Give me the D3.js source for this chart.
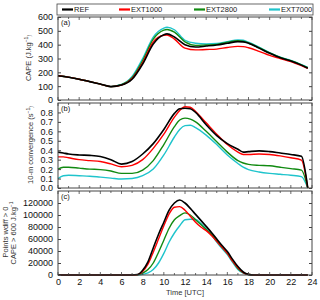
<!DOCTYPE html>
<html>
<head>
<meta charset="utf-8">
<script src="https://cdn.jsdelivr.net/npm/d3@7"></script>
<style>
  body { margin: 0; background: #fff; }
  svg { display: block; font-family: "Liberation Sans", Arial, sans-serif; }
</style>
</head>
<body>
<div id="chart"></div>
<script>
// series names / colours
var names = ["REF", "EXT1000", "EXT2800", "EXT7000"];
var colors = ["#000000", "#ff0000", "#118a11", "#1fc4cc"];

// panel (a) CAPE
var timeA = [0, 1, 2, 3, 4, 5, 6, 7, 8, 9, 10, 10.3, 11, 12, 13, 14, 15, 16, 17, 17.5, 18, 19, 20, 21, 22, 23, 23.6];
var capeRef  = [175, 165, 150, 133, 115, 97, 108, 150, 260, 405, 472, 478, 455, 400, 383, 390, 398, 410, 422, 420, 410, 375, 338, 305, 282, 252, 230];
var cape1000 = [175, 165, 150, 133, 115, 97, 108, 155, 270, 420, 468, 470, 440, 375, 362, 365, 368, 380, 388, 386, 378, 352, 322, 300, 278, 248, 228];
var cape2800 = [175, 165, 150, 133, 115, 97, 110, 162, 285, 440, 505, 510, 490, 420, 395, 398, 402, 418, 428, 425, 412, 378, 340, 308, 284, 254, 234];
var cape7000 = [175, 165, 150, 133, 115, 97, 112, 170, 300, 455, 520, 526, 508, 432, 410, 405, 408, 422, 434, 432, 418, 382, 343, 310, 286, 256, 236];

// panel (b) 10-m convergence
var timeB = [0, 0.5, 1, 2, 3, 4, 5, 6, 7, 8, 9, 10, 11, 11.5, 12, 12.5, 13, 14, 15, 16, 17, 17.5, 18, 19, 20, 21, 22, 23, 23.6];
var convRef  = [0.38, 0.37, 0.36, 0.35, 0.345, 0.333, 0.30, 0.253, 0.28, 0.36, 0.47, 0.62, 0.79, 0.84, 0.845, 0.84, 0.80, 0.67, 0.555, 0.47, 0.41, 0.38, 0.385, 0.393, 0.385, 0.37, 0.355, 0.335, 0.0];
var conv1000 = [0.33, 0.33, 0.32, 0.30, 0.29, 0.28, 0.255, 0.225, 0.24, 0.30, 0.42, 0.57, 0.75, 0.82, 0.86, 0.855, 0.81, 0.69, 0.57, 0.46, 0.38, 0.355, 0.355, 0.36, 0.355, 0.34, 0.32, 0.295, 0.0];
var conv2800 = [0.20, 0.22, 0.22, 0.21, 0.20, 0.195, 0.18, 0.155, 0.155, 0.19, 0.29, 0.46, 0.65, 0.72, 0.74, 0.73, 0.70, 0.60, 0.49, 0.38, 0.29, 0.265, 0.25, 0.24, 0.235, 0.22, 0.205, 0.19, 0.0];
var conv7000 = [0.10, 0.13, 0.135, 0.13, 0.125, 0.115, 0.105, 0.095, 0.10, 0.13, 0.20, 0.35, 0.54, 0.62, 0.66, 0.665, 0.64, 0.56, 0.46, 0.35, 0.26, 0.22, 0.195, 0.17, 0.155, 0.145, 0.135, 0.12, 0.0];

// panel (c) points with wdiff > 0 and CAPE > 600
var timeC = [0, 7, 7.5, 8, 8.5, 9, 9.5, 10, 10.5, 11, 11.5, 12, 12.5, 13, 13.5, 14, 14.5, 15, 15.5, 16, 16.5, 17, 17.5, 18, 18.5, 23.6];
var ptsRef  = [0, 0, 800, 8000, 22000, 45000, 68000, 88000, 108000, 120000, 125000, 120000, 111000, 101000, 91000, 81000, 71000, 60000, 49000, 39000, 26000, 14000, 5000, 1000, 0, 0];
var pts1000 = [0, 0, 500, 6000, 18000, 38000, 60000, 82000, 102000, 113000, 114000, 108000, 98000, 88000, 80000, 74000, 66000, 56000, 46000, 36000, 23000, 12000, 4000, 800, 0, 0];
var pts2800 = [0, 0, 200, 3000, 9000, 20000, 38000, 58000, 78000, 92000, 99000, 103500, 100000, 92000, 84000, 76000, 68000, 57000, 46000, 36000, 23000, 11000, 4000, 800, 0, 0];
var pts7000 = [0, 0, 0, 1000, 3500, 9000, 20000, 36000, 55000, 70000, 82000, 92000, 93000, 92500, 86000, 77000, 67000, 55000, 44000, 34000, 21000, 9000, 3000, 400, 0, 0];

var xTicks = [0, 2, 4, 6, 8, 10, 12, 14, 16, 18, 20, 22, 24];
var ticksA = [0, 100, 200, 300, 400, 500, 600];
var ticksB = [0, 0.1, 0.2, 0.3, 0.4, 0.5, 0.6, 0.7, 0.8];
var ticksC = [0, 20000, 40000, 60000, 80000, 100000, 120000];

var width = 320, height = 300;
var left = 58, right = 312;

var svg = d3.select("#chart").append("svg")
  .attr("width", width)
  .attr("height", height);

var x = d3.scaleLinear().domain([0, 24]).range([left, right]);

var panels = [
  { label: "(a)", top: 17, bottom: 100, domain: [0, 600], ticks: ticksA, fmt: d3.format("d"),
    time: timeA, series: [capeRef, cape1000, cape2800, cape7000] },
  { label: "(b)", top: 103, bottom: 188, domain: [0, 0.9], ticks: ticksB, fmt: d3.format(".1f"),
    time: timeB, series: [convRef, conv1000, conv2800, conv7000] },
  { label: "(c)", top: 191, bottom: 275, domain: [0, 140000], ticks: ticksC, fmt: d3.format("d"),
    time: timeC, series: [ptsRef, pts1000, pts2800, pts7000] }
];

panels.forEach(function (p, pi) {
  var y = d3.scaleLinear().domain(p.domain).range([p.bottom, p.top]);
  var g = svg.append("g");

  var line = d3.line()
    .x(function (d, i) { return x(p.time[i]); })
    .y(function (d) { return y(d); })
    .curve(d3.curveMonotoneX);

  // draw from last to first so REF is on top
  for (var s = p.series.length - 1; s >= 0; s--) {
    g.append("path")
      .datum(p.series[s])
      .attr("d", line)
      .attr("fill", "none")
      .attr("stroke", colors[s])
      .attr("stroke-width", s == 0 ? 1.6 : 1.4);
  }

  // frame
  g.append("rect")
    .attr("x", left).attr("y", p.top)
    .attr("width", right - left).attr("height", p.bottom - p.top)
    .attr("fill", "none").attr("stroke", "#444").attr("stroke-width", 1);

  // x ticks, inside, top and bottom
  var hours = d3.range(0, 25);
  g.selectAll(".xtb").data(hours).enter().append("line")
    .attr("x1", function (d) { return x(d); }).attr("x2", function (d) { return x(d); })
    .attr("y1", p.bottom).attr("y2", function (d) { return p.bottom - (d % 2 == 0 ? 3 : 2); })
    .attr("stroke", "#444").attr("stroke-width", 0.8);
  g.selectAll(".xtt").data(hours).enter().append("line")
    .attr("x1", function (d) { return x(d); }).attr("x2", function (d) { return x(d); })
    .attr("y1", p.top).attr("y2", function (d) { return p.top + (d % 2 == 0 ? 3 : 2); })
    .attr("stroke", "#444").attr("stroke-width", 0.8);

  // y axis left with labels, ticks inside
  var yAxis = d3.axisLeft(y).tickValues(p.ticks).tickFormat(p.fmt).tickSizeInner(-3).tickSizeOuter(0).tickPadding(5);
  var ya = g.append("g").attr("transform", "translate(" + left + ",0)").call(yAxis);
  ya.select(".domain").remove();
  ya.selectAll("line").attr("stroke", "#444");
  ya.selectAll("text").attr("font-size", "9px").attr("fill", "#111");

  var yAxisR = d3.axisRight(y).tickValues(p.ticks).tickSizeInner(-3).tickSizeOuter(0).tickFormat("");
  var yr = g.append("g").attr("transform", "translate(" + right + ",0)").call(yAxisR);
  yr.select(".domain").remove();
  yr.selectAll("line").attr("stroke", "#444");

  g.append("text")
    .attr("x", left + 3).attr("y", p.top + 8)
    .attr("font-size", "7.5px").attr("fill", "#111")
    .text(p.label);

  if (pi == 2) {
    var xAxis = d3.axisBottom(x).tickValues(xTicks).tickSize(0).tickPadding(4);
    var xa = g.append("g").attr("transform", "translate(0," + p.bottom + ")").call(xAxis);
    xa.select(".domain").remove();
    xa.selectAll("text").attr("font-size", "9px").attr("fill", "#111");
  }
});

// y-axis titles
function yTitle(cx, cy, parts) {
  var t = svg.append("text")
    .attr("transform", "translate(" + cx + "," + cy + ") rotate(-90)")
    .attr("text-anchor", "middle")
    .attr("font-size", "7.5px").attr("fill", "#333");
  parts.forEach(function (pt) {
    var ts = t.append("tspan").text(pt[0]);
    if (pt[1]) ts.attr("dy", pt[1]).attr("font-size", "5px");
  });
}
yTitle(31, 58, [["CAPE (J.kg"], ["\u22121", "-2.8"], [")", "2.8"]]);
yTitle(33, 145, [["10-m convergence (s"], ["\u22121", "-2.8"], [")", "2.8"]]);
yTitle(8, 232, [["Points wdiff  > 0"]]);
yTitle(16, 233, [["CAPE > 600 J.kg"], ["\u22121", "-2.8"]]);

svg.append("text")
  .attr("x", 185).attr("y", 295)
  .attr("text-anchor", "middle")
  .attr("font-size", "7.5px").attr("fill", "#333")
  .text("Time [UTC]");

// legend
var lg = svg.append("g");
lg.append("rect")
  .attr("x", left - 1).attr("y", 4).attr("width", right - left + 2).attr("height", 11)
  .attr("fill", "#fff").attr("stroke", "#444").attr("stroke-width", 0.8);
var legX = [62, 119, 194, 269];
names.forEach(function (n, i) {
  lg.append("line")
    .attr("x1", legX[i]).attr("x2", legX[i] + 11)
    .attr("y1", 9.5).attr("y2", 9.5)
    .attr("stroke", colors[i]).attr("stroke-width", 2.2);
  lg.append("text")
    .attr("x", legX[i] + 12).attr("y", 12.3)
    .attr("font-size", "7.5px").attr("fill", "#222")
    .text(n);
});
</script>
</body>
</html>
